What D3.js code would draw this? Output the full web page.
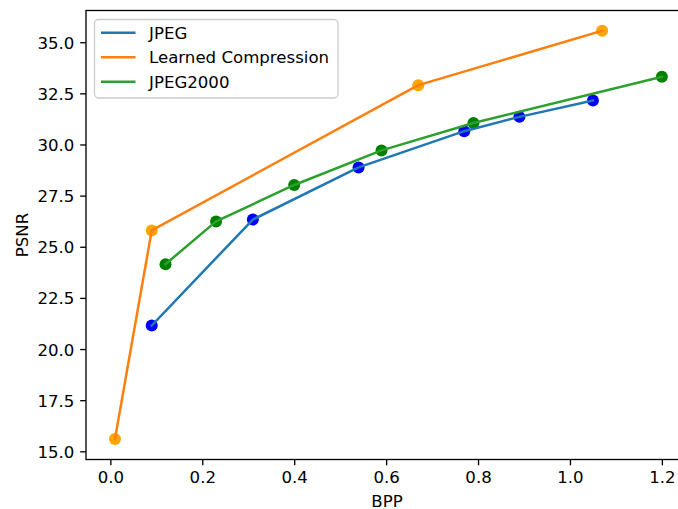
<!DOCTYPE html>
<html><head><meta charset="utf-8">
<script src="https://cdn.jsdelivr.net/npm/d3@7"></script>
<style>body{margin:0;background:#fff}svg{display:block}text{font-family:"DejaVu Sans",sans-serif}</style>
</head><body>
<svg id="c" width="678" height="509"></svg>
<script>
const jpegBpp = [0.09, 0.31, 0.54, 0.77, 0.89, 1.05];
const jpegPsnr = [21.15, 26.33, 28.88, 30.65, 31.35, 32.15];
const learnedBpp = [0.01, 0.09, 0.67, 1.07];
const learnedPsnr = [15.6, 25.8, 32.9, 35.56];
const j2kBpp = [0.12, 0.23, 0.40, 0.59, 0.79, 1.20];
const j2kPsnr = [24.15, 26.24, 28.02, 29.71, 31.05, 33.31];
const xTicks = [0.0, 0.2, 0.4, 0.6, 0.8, 1.0, 1.2];
const yTicks = [15.0, 17.5, 20.0, 22.5, 25.0, 27.5, 30.0, 32.5, 35.0];
const seriesNames = ["JPEG", "Learned Compression", "JPEG2000"];

const svg = d3.select("#c");
const L = 86, R = 689, T = 10.5, B = 459.5;
const x = d3.scaleLinear().domain([-0.053, 1.259]).range([L, R]);
const y = d3.scaleLinear().domain([14.6, 36.55]).range([B, T]);
const fs = 16.6;

const series = [
  {name: seriesNames[0], xs: jpegBpp, ys: jpegPsnr, line: "#1f77b4", dot: "blue"},
  {name: seriesNames[1], xs: learnedBpp, ys: learnedPsnr, line: "#ff7f0e", dot: "orange"},
  {name: seriesNames[2], xs: j2kBpp, ys: j2kPsnr, line: "#2ca02c", dot: "green"}
];

// dots (below lines, like matplotlib scatter zorder 1)
series.forEach(s => {
  svg.append("g").selectAll("circle").data(s.xs.map((v,i)=>[v,s.ys[i]])).join("circle")
    .attr("cx", d=>x(d[0])).attr("cy", d=>y(d[1])).attr("r", 6).attr("fill", s.dot);
});
const line = d3.line().x(d=>x(d[0])).y(d=>y(d[1]));
series.forEach(s => {
  svg.append("path").datum(s.xs.map((v,i)=>[v,s.ys[i]]))
    .attr("d", line).attr("fill","none").attr("stroke", s.line).attr("stroke-width", 2.5)
    .attr("stroke-linecap","square").attr("stroke-linejoin","round");
});

// axes
const xAxis = d3.axisBottom(x).tickValues(xTicks).tickFormat(d3.format(".1f")).tickSize(5.8).tickPadding(5.8);
const yAxis = d3.axisLeft(y).tickValues(yTicks).tickFormat(d3.format(".1f")).tickSize(5.8).tickPadding(5.8);
const gx = svg.append("g").attr("transform", `translate(0,${B})`).call(xAxis);
const gy = svg.append("g").attr("transform", `translate(${L},0)`).call(yAxis);
[gx, gy].forEach(g => {
  g.select(".domain").remove();
  g.selectAll(".tick line").attr("stroke", "#000").attr("stroke-width", 1.33);
  g.selectAll(".tick text").attr("fill", "#000").style("font-size", fs + "px").style("font-family", "DejaVu Sans");
});
gy.selectAll(".tick text").attr("dy", "0.36em");
gx.selectAll(".tick text").attr("dy", "0.74em");

// spines
svg.append("rect").attr("x", L).attr("y", T).attr("width", R-L).attr("height", B-T)
  .attr("fill", "none").attr("stroke", "#000").attr("stroke-width", 1.33);

// labels
svg.append("text").attr("x", (L+R)/2 - 0.5).attr("y", 506.5).attr("text-anchor","middle")
  .style("font-size", fs+"px").text("BPP");
svg.append("text").attr("transform", `translate(28,${(T+B)/2}) rotate(-90)`).attr("text-anchor","middle")
  .style("font-size", fs+"px").text("PSNR");

// legend
const lg = svg.append("g");
lg.append("rect").attr("x", 94.5).attr("y", 19.5).attr("width", 243.5).attr("height", 78.5)
  .attr("rx", 4).attr("fill", "#fff").attr("fill-opacity", 0.8).attr("stroke", "#cccccc").attr("stroke-width", 1.33);
series.forEach((s, i) => {
  const cy = 32.7 + i * 24.5;
  lg.append("line").attr("x1", 101).attr("x2", 135.5).attr("y1", cy).attr("y2", cy)
    .attr("stroke", s.line).attr("stroke-width", 2.5);
  lg.append("text").attr("x", 149).attr("y", cy).attr("dy", "0.36em")
    .style("font-size", fs+"px").text(s.name);
});
</script>
</body></html>
